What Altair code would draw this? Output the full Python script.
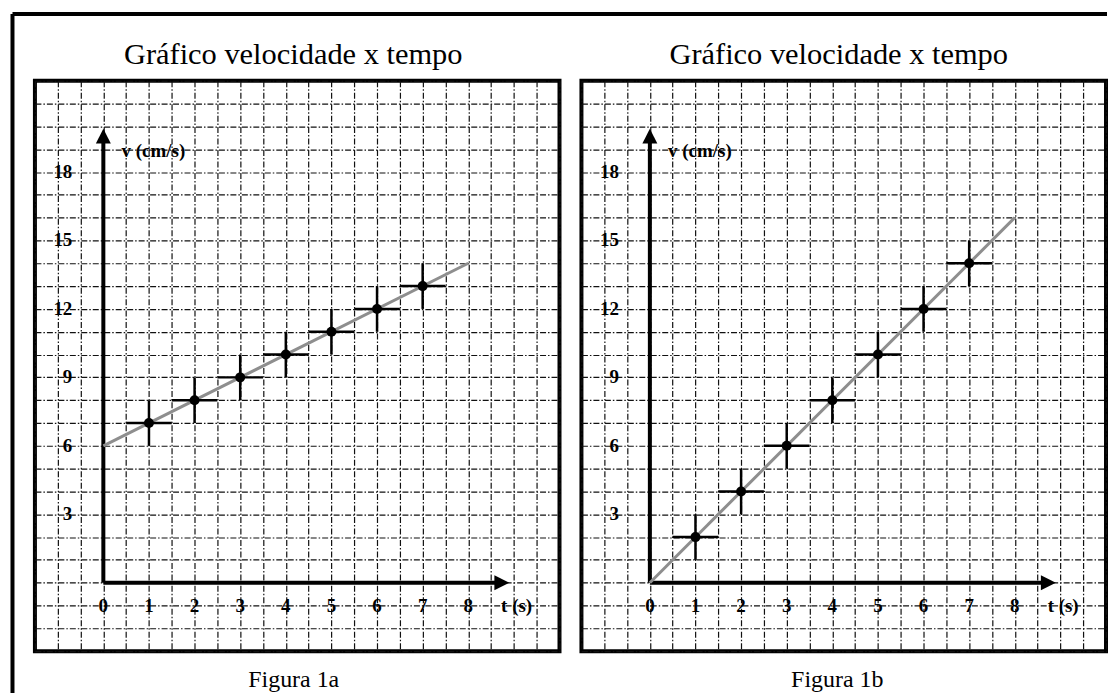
import altair as alt
import pandas as pd
import numpy as np

# ---------------- data ----------------
title_text = "Gráfico velocidade x tempo"
captions = ["Figura 1a", "Figura 1b"]
v_label = "v (cm/s)"
t_label = "t (s)"

# Figura 1a
t_1a = [1, 2, 3, 4, 5, 6, 7]
v_1a = [7, 8, 9, 10, 11, 12, 13]
fit_t_1a = [0, 8]
fit_v_1a = [6, 14]

# Figura 1b
t_1b = [1, 2, 3, 4, 5, 6, 7]
v_1b = [2, 4, 6, 8, 10, 12, 14]
fit_t_1b = [0, 8]
fit_v_1b = [0, 16]

# uncertainties (error crosses)
err_t = 0.5
err_v = 1.0

# axis tick labels
x_ticks = [0, 1, 2, 3, 4, 5, 6, 7, 8]
y_ticks = [3, 6, 9, 12, 15, 18]

# ---------------- layout ----------------
W, H = 526, 572
x_domain = [-1.5, 10]
y_domain = [-3, 22]
grid_x = list(np.arange(-1.5, 10.01, 0.5))
grid_y = list(np.arange(-3, 22.01, 1.0))
t_axis_tip = 8.9
v_axis_tip = 19.9

SERIF = "Liberation Serif"
GRID_DASH = [6, 2, 1.5, 2]
GRID_COLOR = "#111111"

xs = alt.Scale(domain=x_domain, nice=False, zero=False)
ys = alt.Scale(domain=y_domain, nice=False, zero=False)

yaxis = alt.Axis(values=grid_y, grid=True, gridDash=GRID_DASH, gridColor=GRID_COLOR,
                 gridWidth=1.2, gridOpacity=1, labels=False, ticks=False, domain=False,
                 title=None)


def panel(t_vals, v_vals, fit_t, fit_v, caption, title_cx, cap_dx, first):
    xaxis = alt.Axis(values=grid_x, grid=True, gridDash=GRID_DASH, gridColor=GRID_COLOR,
                     gridWidth=1.2, gridOpacity=1, labels=False, ticks=False, domain=False,
                     title=caption, titleFont=SERIF, titleFontSize=24,
                     titleFontWeight="normal", titleColor="black",
                     titleBaseline="alphabetic", titlePadding=35,
                     titleX=W / 2 + cap_dx, titleAlign="center", titleAnchor="middle")

    def X(f):
        return alt.X(f, type="quantitative", scale=xs, axis=xaxis)

    def Y(f):
        return alt.Y(f, type="quantitative", scale=ys, axis=yaxis)

    pts = pd.DataFrame({"t": t_vals, "v": v_vals})
    fit = pd.DataFrame({"t": fit_t, "v": fit_v})
    axes_df = pd.DataFrame({"t0": [0.0], "v0": [0.0], "t1": [t_axis_tip], "v1": [v_axis_tip]})
    xt = pd.DataFrame({"k": x_ticks})
    yt = pd.DataFrame({"k": y_ticks})
    names = pd.DataFrame({"name": [v_label, t_label], "t": [0.40, 8.72], "v": [18.9, -1.0]})
    ttl = pd.DataFrame({"label": [title_text]})

    base_axes = alt.Chart(axes_df)
    v_line = base_axes.mark_rule(color="black", strokeWidth=4).transform_calculate(
        vend="datum.v1 - 0.3").encode(x=X("t0"), y=Y("v0"), y2="vend:Q")
    h_line = base_axes.mark_rule(color="black", strokeWidth=4).transform_calculate(
        tend="datum.t1 - 0.15").encode(x=X("t0"), x2="tend:Q", y=Y("v0"))
    v_head = base_axes.mark_point(shape="M0,0L-0.5,1L0.5,1Z", size=900, filled=True,
                                  color="black", opacity=1, strokeWidth=0).encode(
        x=X("t0"), y=Y("v1"))
    h_head = base_axes.mark_point(shape="M0,0L-1,-0.5L-1,0.5Z", size=900, filled=True,
                                  color="black", opacity=1, strokeWidth=0).encode(
        x=X("t1"), y=Y("v0"))

    fit_line = alt.Chart(fit).mark_line(color="#8e8e8e", strokeWidth=3).encode(
        x=X("t"), y=Y("v"))

    base_pts = alt.Chart(pts).transform_calculate(
        tl=f"datum.t - {err_t}", th=f"datum.t + {err_t}",
        vl=f"datum.v - {err_v}", vh=f"datum.v + {err_v}")
    h_err = base_pts.mark_rule(color="black", strokeWidth=2.5).encode(
        x=X("tl"), x2="th:Q", y=Y("v"))
    v_err = base_pts.mark_rule(color="black", strokeWidth=2.5).encode(
        x=X("t"), y=Y("vl"), y2="vh:Q")
    dots = base_pts.mark_circle(size=100, color="black", opacity=1).encode(
        x=X("t"), y=Y("v"))

    txt = dict(font=SERIF, fontWeight="bold", fontSize=19, color="black", baseline="middle")
    x_lab = alt.Chart(xt).transform_calculate(row="-1").mark_text(align="center", **txt).encode(
        x=X("k"), y=Y("row"), text="k:Q")
    y_lab = alt.Chart(yt).transform_calculate(col="-0.68").mark_text(align="right", **txt).encode(
        x=X("col"), y=Y("k"), text="k:Q")
    name_lab = alt.Chart(names).mark_text(align="left", **txt).encode(
        x=X("t"), y=Y("v"), text="name:N")

    title_mark = alt.Chart(ttl).mark_text(
        font=SERIF, fontSize=30.5, fontWeight="normal", color="black",
        align="center", baseline="alphabetic").encode(
        x=alt.value(title_cx), y=alt.value(-16.5), text="label:N")

    layers = [v_line, h_line, v_head, h_head, fit_line, h_err, v_err, dots,
              x_lab, y_lab, name_lab, title_mark]

    if first:
        frame_top = alt.Chart(axes_df).mark_rule(color="black", strokeWidth=4).encode(
            x=alt.value(-22.5), x2=alt.value(1075), y=alt.value(-67))
        frame_left = alt.Chart(axes_df).mark_rule(color="black", strokeWidth=4).encode(
            x=alt.value(-22.5), y=alt.value(-67), y2=alt.value(614))
        layers += [frame_top, frame_left]

    return alt.layer(*layers).properties(width=W, height=H)


p1 = panel(t_1a, v_1a, fit_t_1a, fit_v_1a, captions[0], 259, -4, True)
p2 = panel(t_1b, v_1b, fit_t_1b, fit_v_1b, captions[1], 258, -7, False)

chart = alt.hconcat(p1, p2, spacing=22, bounds="flush").properties(
    padding={"left": 0, "top": 1, "right": 0, "bottom": 0},
    background="white",
).configure_view(stroke="black", strokeWidth=4, fill="white")

chart.save("out.html", embed_options={"renderer": "svg", "actions": False})
